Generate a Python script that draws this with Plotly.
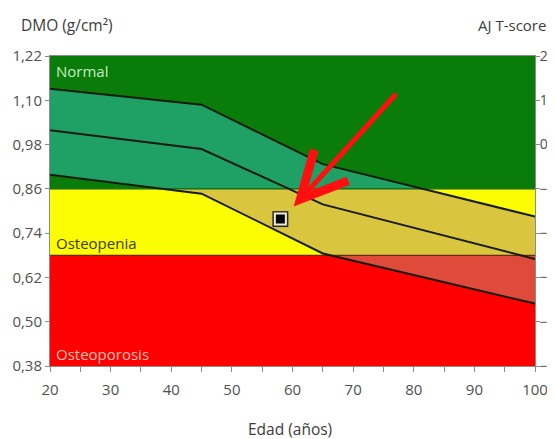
import plotly.graph_objects as go

# ---------------- data ----------------
AGES = [20, 45, 65, 100]
UPPER_SD = [1.131, 1.088, 0.927, 0.785]
MEAN_BMD = [1.019, 0.968, 0.818, 0.670]
LOWER_SD = [0.898, 0.847, 0.685, 0.549]

ZONE_NAMES = ["Osteoporosis", "Osteopenia", "Normal"]
ZONE_BOUNDS = [0.38, 0.68, 0.86, 1.22]

AGE_RANGE = [20, 100]
AGE_TICKS = [20, 30, 40, 50, 60, 70, 80, 90, 100]
BMD_TICKS = [0.38, 0.50, 0.62, 0.74, 0.86, 0.98, 1.10, 1.22]
BMD_TICK_TEXT = ["0,38", "0,50", "0,62", "0,74", "0,86", "0,98", "1,10", "1,22"]
TSCORE_RANGE = [-5, 2]
TSCORE_TICKS = [-5, -4, -3, -2, -1, 0, 1, 2]

PATIENT_AGE = [58.0]
PATIENT_BMD = [0.778]

ARROW_TAIL = [77.3, 1.121]
ARROW_TIP = [60.2, 0.812]

# ---------------- styles ----------------
ZONE_COLORS = ["#fe0000", "#fcfc02", "#0a7c0a"]
BAND_COLORS = ["#df4a3a", "#dac63e", "#1fa064"]
LABEL_COLORS = ["#ffc2b2", "#3a3a0c", "#c6ecc6"]
BOUNDARY_COLORS = ["#6a2a08", "#0b640b"]
CURVE_COLOR = "#161c10"
FONT = "Open Sans"
AXIS_GREY = "#8c8c8c"

fig = go.Figure()
layout_axes = {}
span = ZONE_BOUNDS[-1] - ZONE_BOUNDS[0]

for i in range(len(ZONE_NAMES)):
    lo, hi = ZONE_BOUNDS[i], ZONE_BOUNDS[i + 1]
    yname = "y" if i == 0 else f"y{i + 1}"
    key = "yaxis" if i == 0 else f"yaxis{i + 1}"
    layout_axes[key] = dict(
        domain=[(lo - ZONE_BOUNDS[0]) / span, (hi - ZONE_BOUNDS[0]) / span],
        range=[lo, hi], visible=False, anchor="x", fixedrange=True, automargin=False,
    )
    fig.add_trace(go.Scatter(x=AGE_RANGE, y=[hi, hi], mode="lines", fill="tozeroy",
                             fillcolor=ZONE_COLORS[i], line=dict(width=0),
                             yaxis=yname, hoverinfo="skip", showlegend=False))
    fig.add_trace(go.Scatter(x=AGES, y=LOWER_SD, mode="lines",
                             line=dict(width=0, color="rgba(0,0,0,0)"),
                             yaxis=yname, hoverinfo="skip", showlegend=False))
    fig.add_trace(go.Scatter(x=AGES, y=UPPER_SD, mode="lines", fill="tonexty",
                             fillcolor=BAND_COLORS[i], line=dict(width=0, color="rgba(0,0,0,0)"),
                             yaxis=yname, hoverinfo="skip", showlegend=False))

MAIN = "y4"
# zone boundary lines
for j, b in enumerate(ZONE_BOUNDS[1:-1]):
    fig.add_trace(go.Scatter(x=AGE_RANGE, y=[b, b], mode="lines",
                             line=dict(color=BOUNDARY_COLORS[j], width=1.2),
                             yaxis=MAIN, hoverinfo="skip", showlegend=False))
# reference curves
for curve in (UPPER_SD, MEAN_BMD, LOWER_SD):
    fig.add_trace(go.Scatter(x=AGES, y=curve, mode="lines",
                             line=dict(color=CURVE_COLOR, width=2),
                             yaxis=MAIN, hoverinfo="skip", showlegend=False))
# patient marker
fig.add_trace(go.Scatter(x=PATIENT_AGE, y=PATIENT_BMD, mode="markers",
                         marker=dict(symbol="square", size=16, color="#2a2a2a"),
                         yaxis=MAIN, hoverinfo="skip", showlegend=False))
fig.add_trace(go.Scatter(x=PATIENT_AGE, y=PATIENT_BMD, mode="markers",
                         marker=dict(symbol="square", size=11, color="#050510",
                                     line=dict(width=2, color="#ecebd6")),
                         yaxis=MAIN, showlegend=False))
# invisible anchor for T-score axis
fig.add_trace(go.Scatter(x=AGE_RANGE[:1], y=TSCORE_RANGE[:1], mode="markers",
                         marker=dict(opacity=0), yaxis="y5",
                         hoverinfo="skip", showlegend=False))

tickfont = dict(family=FONT, size=15, color="#505050")

layout_axes["yaxis4"] = dict(
    domain=[0, 1], range=[ZONE_BOUNDS[0], ZONE_BOUNDS[-1]], anchor="x",
    tickvals=BMD_TICKS, ticktext=BMD_TICK_TEXT, ticks="outside", ticklen=4,
    tickcolor=AXIS_GREY, showline=True, linecolor=AXIS_GREY, linewidth=1,
    showgrid=False, zeroline=False, tickfont=tickfont, fixedrange=True,
    automargin=False,
)
layout_axes["yaxis5"] = dict(
    overlaying="y4", side="right", anchor="x", range=TSCORE_RANGE,
    tickvals=TSCORE_TICKS, ticks="outside", ticklen=4, tickcolor=AXIS_GREY,
    showline=True, linecolor=AXIS_GREY, linewidth=1, showgrid=False,
    zeroline=False, tickfont=dict(family=FONT, size=14, color="#505050"),
    fixedrange=True, automargin=False, ticklabelstandoff=-3,
)

annotations = [
    dict(text="DMO (g/cm²)", xref="paper", yref="paper", x=-0.064, y=1.1,
         xanchor="left", yanchor="middle", showarrow=False,
         font=dict(family=FONT, size=15.5, color="#3c3c3c")),
    dict(text="AJ T-score", xref="paper", yref="paper", x=1.026, y=1.1,
         xanchor="right", yanchor="middle", showarrow=False,
         font=dict(family=FONT, size=15, color="#3c3c3c")),
    dict(text="Edad (años)", xref="paper", yref="paper", x=0.495, y=-0.203,
         xanchor="center", yanchor="middle", showarrow=False,
         font=dict(family=FONT, size=15.5, color="#3c3c3c")),
]
# zone labels
label_pos = [(ZONE_BOUNDS[0], "bottom", 0), (ZONE_BOUNDS[1], "bottom", 0),
             (ZONE_BOUNDS[-1], "top", -3)]
for i, name in enumerate(ZONE_NAMES):
    yv, ya, ys = label_pos[i]
    annotations.append(dict(text=name, x=AGE_RANGE[0], y=yv, xref="x", yref=MAIN,
                            xanchor="left", yanchor=ya, xshift=4, yshift=ys,
                            showarrow=False,
                            font=dict(family=FONT, size=15, color=LABEL_COLORS[i])))
# red arrow
annotations.append(dict(text="", x=ARROW_TIP[0], y=ARROW_TIP[1], xref="x", yref=MAIN,
                        ax=ARROW_TAIL[0], ay=ARROW_TAIL[1], axref="x", ayref=MAIN,
                        showarrow=True, arrowhead=5, arrowsize=1.8, arrowwidth=5,
                        arrowcolor="#ff1010", standoff=0))

fig.update_layout(
    width=555, height=439,
    margin=dict(l=42, r=28, t=48, b=81),
    paper_bgcolor="white", plot_bgcolor="rgba(0,0,0,0)",
    showlegend=False,
    xaxis=dict(domain=[0, 1], range=AGE_RANGE, anchor="y4", tickvals=AGE_TICKS,
               ticks="outside", ticklen=5, tickcolor=AXIS_GREY, showline=True,
               linecolor=AXIS_GREY, linewidth=1, mirror=True, showgrid=False,
               zeroline=False, tickfont=tickfont, fixedrange=True, ticklabelstandoff=5,
               automargin=False,
               minor=dict(dtick=5, ticks="outside", ticklen=5, tickcolor=AXIS_GREY)),
    annotations=annotations,
    **layout_axes,
)

fig.write_html("out.html")
